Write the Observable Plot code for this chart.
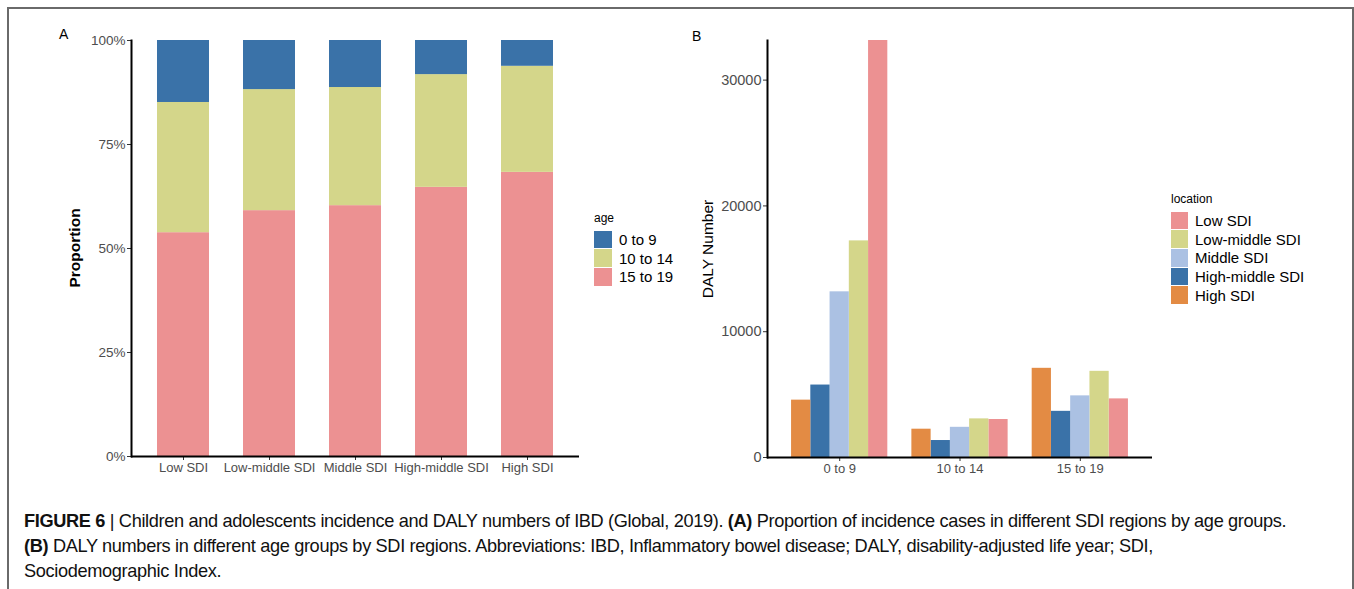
<!DOCTYPE html>
<html>
<head>
<meta charset="utf-8">
<script src="https://cdn.jsdelivr.net/npm/d3@7"></script>
<script src="https://cdn.jsdelivr.net/npm/@observablehq/plot@0.6"></script>
<style>
  html, body { margin: 0; padding: 0; background: #fff; }
  #fig { position: relative; width: 1354px; height: 589px; overflow: hidden; background: #fff;
         font-family: "Liberation Sans", Arial, sans-serif; color: #000; }
  #border { position: absolute; left: 7px; top: 7px; width: 1347px; height: 620px;
            border: 2px solid #6a6a6a; box-sizing: border-box; }
  .panel { position: absolute; top: 0; }
  .tag { position: absolute; font-size: 14px; }
  .ylab { position: absolute; font-size: 15.5px; white-space: nowrap; transform: translate(-50%, -50%) rotate(-90deg); }
  .legend { position: absolute; }
  .legend .title { font-size: 12px; margin-bottom: 5px; }
  .legend .item { display: flex; align-items: center; height: 18.7px; font-size: 15px; }
  .legend .sw { height: 17.7px; margin-right: 7px; }
  .cap { position: absolute; left: 24px; font-size: 18.2px; white-space: nowrap; line-height: 25px;
         letter-spacing: -0.35px; color: #111; }
  .cap b { font-weight: bold; }
</style>
</head>
<body>
<div id="fig">
  <div id="border"></div>
</div>
<script>
// ---------- data ----------
const ages = ["0 to 9", "10 to 14", "15 to 19"];
const sdiLocations = ["Low SDI", "Low-middle SDI", "Middle SDI", "High-middle SDI", "High SDI"];

// Panel A: share of incidence cases by age group within each SDI region
const share0to9   = [0.149, 0.118, 0.113, 0.082, 0.062];
const share10to14 = [0.313, 0.291, 0.284, 0.271, 0.255];
const share15to19 = [0.538, 0.591, 0.603, 0.647, 0.683];
const yTicksA = [0, 0.25, 0.5, 0.75, 1];

// Panel B: DALY numbers by SDI region (same order as sdiLocations)
const daly0to9   = [33150, 17220, 13170, 5760, 4560];
const daly10to14 = [3020, 3070, 2400, 1350, 2250];
const daly15to19 = [4660, 6850, 4900, 3670, 7090];
const yTicksB = [0, 10000, 20000, 30000];

const ageColors = ["#3a72a8", "#d4d68a", "#ec9192"];
const locationColors = ["#ec9192", "#d4d68a", "#abc1e3", "#3a72a8", "#e38b44"];

// ---------- tables ----------
const rowsA = [];
[["15 to 19", share15to19], ["10 to 14", share10to14], ["0 to 9", share0to9]].forEach(([age, arr]) =>
  sdiLocations.forEach((loc, i) => rowsA.push({location: loc, age, value: arr[i]})));

const rowsB = [];
[daly0to9, daly10to14, daly15to19].forEach((arr, ai) =>
  sdiLocations.forEach((loc, li) => rowsB.push({age: ages[ai], location: loc, value: arr[li]})));

const font = '"Liberation Sans", Arial, sans-serif';
const fig = document.getElementById("fig");

// ---------- Panel A ----------
const plotA = Plot.plot({
  width: 680, height: 490,
  marginLeft: 131, marginRight: 101, marginTop: 40, marginBottom: 34,
  style: {fontFamily: font, fontSize: "13px", background: "transparent", overflow: "visible"},
  x: {domain: sdiLocations, paddingInner: 0.4, paddingOuter: 0.3, label: null},
  y: {domain: [0, 1], label: null},
  color: {domain: ages, range: ageColors},
  marks: [
    Plot.barY(rowsA, {x: "location", y: "value", fill: "age"}),
    Plot.axisX({tickSize: 4, tickPadding: 2, stroke: "#333", fill: "#4d4d4d", label: null, fontSize: 13}),
    Plot.axisY({ticks: yTicksA, tickFormat: d3.format(".0%"), tickSize: 4, tickPadding: 2,
                stroke: "#333", fill: "#4d4d4d", label: null, fontSize: 13.5}),
    Plot.ruleY([0], {stroke: "#000", strokeWidth: 2}),
    Plot.frame({anchor: "left", stroke: "#000", strokeWidth: 2})
  ]
});
plotA.classList.add("panel");
plotA.style.left = "0px";
fig.appendChild(plotA);

// ---------- Panel B (dodged bars, ggplot-style dodge width 0.8) ----------
const dodge = 0.8;
const slots = sdiLocations.length;
const slotOf = d => slots - 1 - sdiLocations.indexOf(d.location); // High SDI leftmost
const plotB = Plot.plot({
  width: 674, height: 490,
  marginLeft: 87, marginRight: 202, marginTop: 40, marginBottom: 33,
  style: {fontFamily: font, fontSize: "13px", background: "transparent", overflow: "visible"},
  x: {type: "linear", domain: [-0.6, ages.length - 0.4], label: null},
  y: {domain: [0, d3.max(rowsB, d => d.value)], label: null},
  color: {domain: sdiLocations, range: locationColors},
  marks: [
    Plot.rect(rowsB, {
      x1: d => ages.indexOf(d.age) - dodge / 2 + slotOf(d) * dodge / slots,
      x2: d => ages.indexOf(d.age) - dodge / 2 + (slotOf(d) + 1) * dodge / slots,
      y1: d => 0, y2: "value", fill: "location"
    }),
    Plot.axisX({ticks: ages.map((a, i) => i), tickFormat: i => ages[i], tickSize: 4, tickPadding: 2,
                stroke: "#333", fill: "#4d4d4d", label: null, fontSize: 13}),
    Plot.axisY({ticks: yTicksB, tickFormat: d3.format("d"), tickSize: 4, tickPadding: 2,
                stroke: "#333", fill: "#4d4d4d", label: null, fontSize: 14.5}),
    Plot.ruleY([0], {stroke: "#000", strokeWidth: 2}),
    Plot.frame({anchor: "left", stroke: "#000", strokeWidth: 2})
  ]
});
plotB.classList.add("panel");
plotB.style.left = "680px";
fig.appendChild(plotB);

// ---------- labels, legends, caption ----------
function addDiv(cls, html, css) {
  const d = document.createElement("div");
  d.className = cls; d.innerHTML = html;
  Object.assign(d.style, css);
  fig.appendChild(d);
  return d;
}
addDiv("tag", "A", {left: "59px", top: "26px"});
addDiv("tag", "B", {left: "692px", top: "28px"});
addDiv("ylab", "Proportion", {left: "75px", top: "248px", fontWeight: "bold"});
addDiv("ylab", "DALY Number", {left: "708px", top: "249px"});

function legend(title, keys, colors, left, top, swW) {
  const lg = addDiv("legend", "", {left: left + "px", top: top + "px"});
  const t = document.createElement("div"); t.className = "title"; t.textContent = title; lg.appendChild(t);
  keys.forEach((k, i) => {
    const it = document.createElement("div"); it.className = "item";
    const sw = document.createElement("span"); sw.className = "sw";
    sw.style.width = swW + "px"; sw.style.background = colors[i];
    it.appendChild(sw);
    const tx = document.createElement("span"); tx.textContent = k; it.appendChild(tx);
    lg.appendChild(it);
  });
}
legend("age", ages, ageColors, 594, 211, 18);
legend("location", sdiLocations, locationColors, 1171, 192, 17);

addDiv("cap", '<b>FIGURE 6</b> | Children and adolescents incidence and DALY numbers of IBD (Global, 2019). <b>(A)</b> Proportion of incidence cases in different SDI regions by age groups.', {top: "509px"});
addDiv("cap", '<b>(B)</b> DALY numbers in different age groups by SDI regions. Abbreviations: IBD, Inflammatory bowel disease; DALY, disability-adjusted life year; SDI,', {top: "534px"});
addDiv("cap", 'Sociodemographic Index.', {top: "559px"});
</script>
</body>
</html>
